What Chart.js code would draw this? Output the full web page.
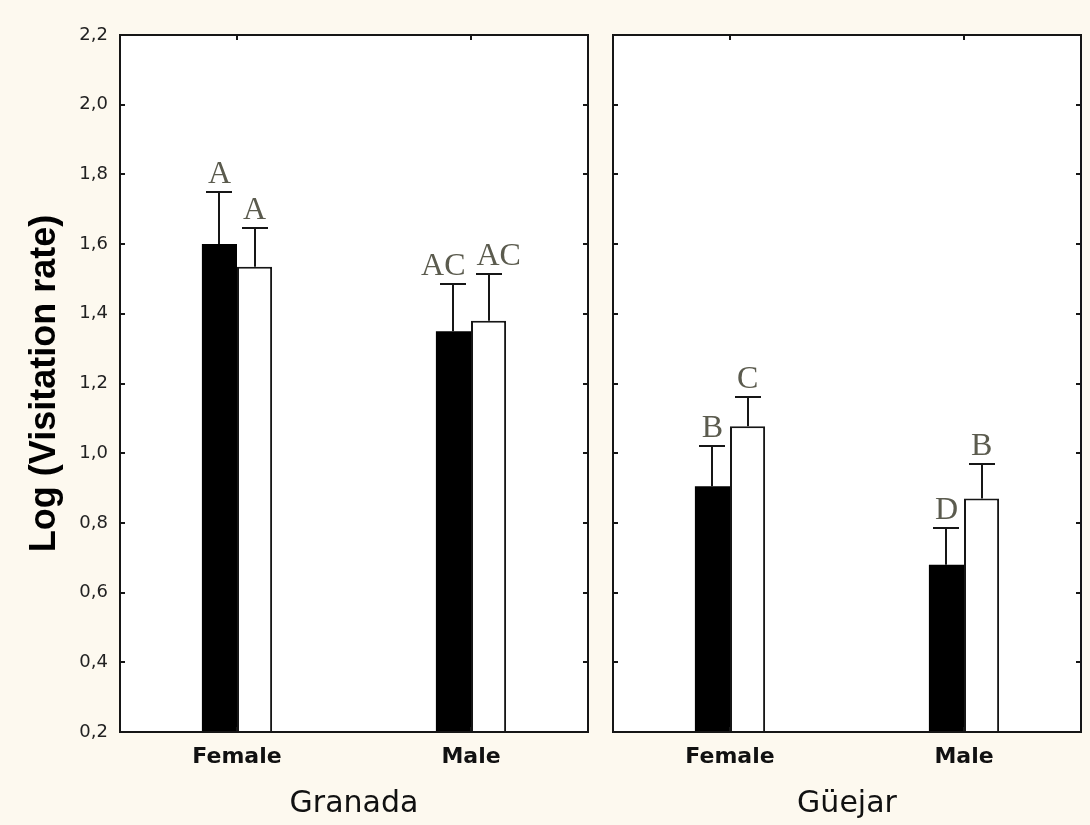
<!DOCTYPE html>
<html>
<head>
<meta charset="utf-8">
<title>Log (Visitation rate)</title>
<script src="https://cdn.jsdelivr.net/npm/chart.js@4.4.1/dist/chart.umd.min.js"></script>
<style>
  html, body { margin: 0; padding: 0; background: #fdf9ef; }
  #wrap { position: relative; width: 1090px; height: 825px; overflow: hidden; }
  .panel { position: absolute; top: 0; height: 825px; }
  #left { left: 0; width: 600px; }
  #right { left: 600px; width: 490px; }
</style>
</head>
<body>
<div id="wrap">
  <div class="panel" id="left"><canvas id="cLeft"></canvas></div>
  <div class="panel" id="right"><canvas id="cRight"></canvas></div>
</div>
<script>
// Sex categories on each panel
const categories = ['Female', 'Male'];

// Y axis range and step
const yMin = 0.2;
const yMax = 2.2;
const yStep = 0.2;

// Granada: means and upper error limits (black / white bars)
const granadaBlack = [1.60, 1.35];
const granadaBlackUpper = [1.75, 1.485];
const granadaWhite = [1.535, 1.38];
const granadaWhiteUpper = [1.645, 1.513];
const granadaBlackLetters = ['A', 'AC'];
const granadaWhiteLetters = ['A', 'AC'];

// Güejar: means and upper error limits (black / white bars)
const guejarBlack = [0.905, 0.68];
const guejarBlackUpper = [1.02, 0.785];
const guejarWhite = [1.077, 0.87];
const guejarWhiteUpper = [1.16, 0.97];
const guejarBlackLetters = ['B', 'D'];
const guejarWhiteLetters = ['C', 'B'];

const INK = '#161616';
const LETTER_COLOR = '#5b5b4e';
const LETTER_FONT = '32px "Liberation Serif", "Times New Roman", serif';

function fmt(v) {
  return v.toFixed(1).replace('.', ',');
}

// White plotting area behind the bars
const plotBackground = {
  id: 'plotBackground',
  beforeDraw(chart) {
    const { ctx, chartArea: a } = chart;
    ctx.save();
    ctx.fillStyle = '#ffffff';
    ctx.fillRect(a.left, a.top, a.right - a.left, a.bottom - a.top);
    ctx.restore();
  }
};

// Upper whiskers, significance letters, frame and inward ticks
const decorations = {
  id: 'decorations',
  afterDatasetsDraw(chart) {
    const { ctx, chartArea: a, scales } = chart;
    const y = scales.y, x = scales.x;

    // whiskers
    ctx.save();
    ctx.strokeStyle = INK;
    ctx.lineWidth = 2;
    chart.data.datasets.forEach((ds, di) => {
      const meta = chart.getDatasetMeta(di);
      meta.data.forEach((bar, i) => {
        const top = y.getPixelForValue(ds.value[i]);
        const up = Math.round(y.getPixelForValue(ds.upper[i]));
        const cx = Math.round(bar.x);
        ctx.beginPath();
        ctx.moveTo(cx, top);
        ctx.lineTo(cx, up);
        ctx.stroke();
        ctx.beginPath();
        ctx.moveTo(cx - 13, up);
        ctx.lineTo(cx + 13, up);
        ctx.stroke();
      });
    });
    ctx.restore();

    // letters above the whiskers, pushed apart when they would touch
    ctx.save();
    ctx.font = LETTER_FONT;
    ctx.fillStyle = LETTER_COLOR;
    ctx.textAlign = 'center';
    ctx.textBaseline = 'alphabetic';
    const d0 = chart.data.datasets[0], d1 = chart.data.datasets[1];
    const m0 = chart.getDatasetMeta(0), m1 = chart.getDatasetMeta(1);
    categories.forEach((c, i) => {
      let x0 = m0.data[i].x, x1 = m1.data[i].x;
      const w0 = ctx.measureText(d0.letters[i]).width;
      const w1 = ctx.measureText(d1.letters[i]).width;
      const need = (w0 + w1) / 2 + 11;
      if (x1 - x0 < need) {
        const s = (need - (x1 - x0)) / 2;
        x0 -= s; x1 += s;
      }
      ctx.fillText(d0.letters[i], x0, y.getPixelForValue(d0.upper[i]) - 9);
      ctx.fillText(d1.letters[i], x1, y.getPixelForValue(d1.upper[i]) - 9);
    });
    ctx.restore();

    // frame
    ctx.save();
    ctx.strokeStyle = INK;
    ctx.lineWidth = 2;
    ctx.strokeRect(a.left, a.top, a.right - a.left, a.bottom - a.top);

    // inward ticks on the vertical sides
    y.ticks.forEach(t => {
      const py = Math.round(y.getPixelForValue(t.value));
      ctx.beginPath();
      ctx.moveTo(a.left, py); ctx.lineTo(a.left + 5, py);
      ctx.moveTo(a.right, py); ctx.lineTo(a.right - 5, py);
      ctx.stroke();
    });
    // inward ticks on the top and bottom at category centres
    categories.forEach((c, i) => {
      const px = Math.round(x.getPixelForValue(i));
      ctx.beginPath();
      ctx.moveTo(px, a.top); ctx.lineTo(px, a.top + 5);
      ctx.moveTo(px, a.bottom); ctx.lineTo(px, a.bottom - 5);
      ctx.stroke();
    });
    ctx.restore();
  }
};

function makePanel(canvasId, title, black, blackUpper, blackLetters, white, whiteUpper, whiteLetters, showY, padRight, yWidth) {
  return new Chart(document.getElementById(canvasId), {
    type: 'bar',
    data: {
      labels: categories,
      datasets: [
        {
          data: black, value: black, upper: blackUpper, letters: blackLetters,
          backgroundColor: '#000000', borderColor: INK, borderWidth: 0
        },
        {
          data: white, value: white, upper: whiteUpper, letters: whiteLetters,
          backgroundColor: '#ffffff', borderColor: INK, borderWidth: 2
        }
      ]
    },
    options: {
      responsive: false,
      animation: false,
      devicePixelRatio: 1,
      layout: { padding: { left: 0, right: padRight, top: 35, bottom: 0 } },
      datasets: { bar: { categoryPercentage: 0.3, barPercentage: 1.0, borderSkipped: 'start' } },
      plugins: { legend: { display: false }, tooltip: { enabled: false } },
      scales: {
        x: {
          grid: { display: false, drawTicks: false },
          border: { display: false },
          ticks: {
            padding: 12,
            color: '#111111',
            font: { family: '"DejaVu Sans", Verdana, sans-serif', size: 22, weight: 'bold' }
          },
          title: {
            display: true,
            text: title,
            color: '#111111',
            padding: { top: 0, bottom: 3 },
            font: { family: '"DejaVu Sans", Verdana, sans-serif', size: 30, weight: 'normal' }
          },
          afterFit(s) { s.height = 93; }
        },
        y: {
          min: yMin,
          max: yMax,
          grid: { display: false, drawTicks: false },
          border: { display: false },
          ticks: {
            display: showY,
            stepSize: yStep,
            padding: 12,
            color: '#222222',
            font: { family: '"DejaVu Sans", Verdana, sans-serif', size: 18 },
            callback: v => fmt(v)
          },
          title: {
            display: showY,
            text: 'Log (Visitation rate)',
            color: '#000000',
            padding: { top: 23, bottom: 0 },
            font: { family: '"Liberation Sans", Arial, sans-serif', size: 36, weight: 'bold' }
          },
          afterFit(s) { s.width = yWidth; }
        }
      }
    },
    plugins: [plotBackground, decorations]
  });
}

const leftCanvas = document.getElementById('cLeft');
leftCanvas.width = 600; leftCanvas.height = 825;
const rightCanvas = document.getElementById('cRight');
rightCanvas.width = 490; rightCanvas.height = 825;

makePanel('cLeft', 'Granada',
  granadaBlack, granadaBlackUpper, granadaBlackLetters,
  granadaWhite, granadaWhiteUpper, granadaWhiteLetters,
  true, 12, 120);

makePanel('cRight', 'Güejar',
  guejarBlack, guejarBlackUpper, guejarBlackLetters,
  guejarWhite, guejarWhiteUpper, guejarWhiteLetters,
  false, 9, 13);
</script>
</body>
</html>
